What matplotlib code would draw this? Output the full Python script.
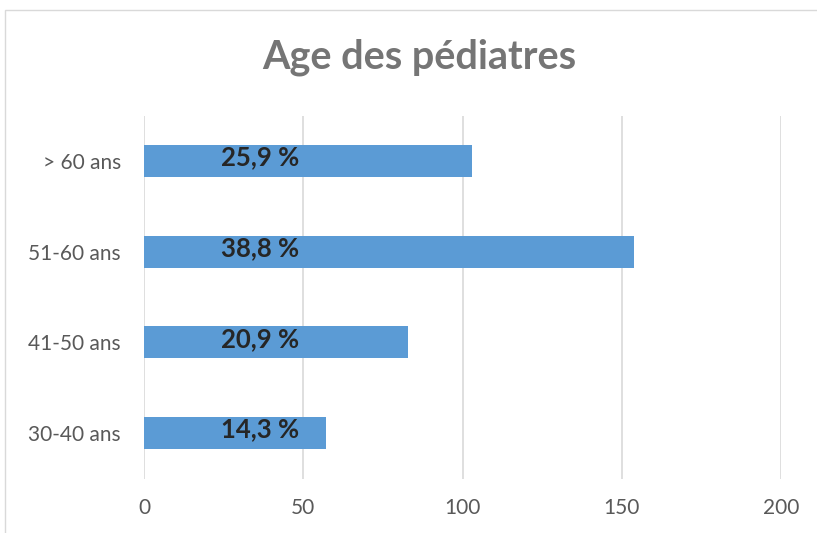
import matplotlib
matplotlib.use('Agg')
import matplotlib.pyplot as plt
from matplotlib.patches import Rectangle

# Data
categories = ['30-40 ans', '41-50 ans', '51-60 ans', '> 60 ans']
counts = [57, 83, 154, 103]
pct_labels = ['14,3 %', '20,9 %', '38,8 %', '25,9 %']
x_ticks = [0, 50, 100, 150, 200]

plt.rcParams['font.family'] = ['Lato', 'DejaVu Sans']

fig = plt.figure(figsize=(8.17, 5.33), dpi=100, facecolor='white')

# light grey chart border
fig.patches.append(Rectangle((5/817, -0.1), 1.1, 1 - 10/533 + 0.1,
                             transform=fig.transFigure, fill=False,
                             edgecolor='#d9d9d9', linewidth=1.0))

ax = fig.add_axes([144/817, 1 - 478.5/533, 637/817, 363/533])
ypos = list(range(len(categories)))
ax.barh(ypos, counts, height=0.35, color='#5b9bd5', zorder=3)
ax.set_xlim(0, 200)
ax.set_ylim(-0.5, len(categories) - 0.5)
ax.set_xticks(x_ticks)
ax.set_xticklabels([str(t) for t in x_ticks])
ax.set_yticks(ypos)
ax.set_yticklabels(categories)
ax.grid(axis='x', color='#d9d9d9', linewidth=1.2, zorder=0)
for s in ax.spines.values():
    s.set_visible(False)
ax.tick_params(axis='both', length=0, labelsize=15, labelcolor='#595959')
ax.tick_params(axis='x', pad=14)
ax.tick_params(axis='y', pad=16.5)

# percentage labels inside the bars
for y, lab in zip(ypos, pct_labels):
    ax.text(36.5, y + 0.04, lab, ha='center', va='center', fontsize=18.5,
            fontweight='bold', color='#262626', zorder=4)

fig.text(419/817, 1 - 57/533, 'Age des pédiatres', ha='center', va='center',
         fontsize=28.5, fontweight='bold', color='#757575')

fig.savefig('out.png', dpi=100, facecolor='white')
